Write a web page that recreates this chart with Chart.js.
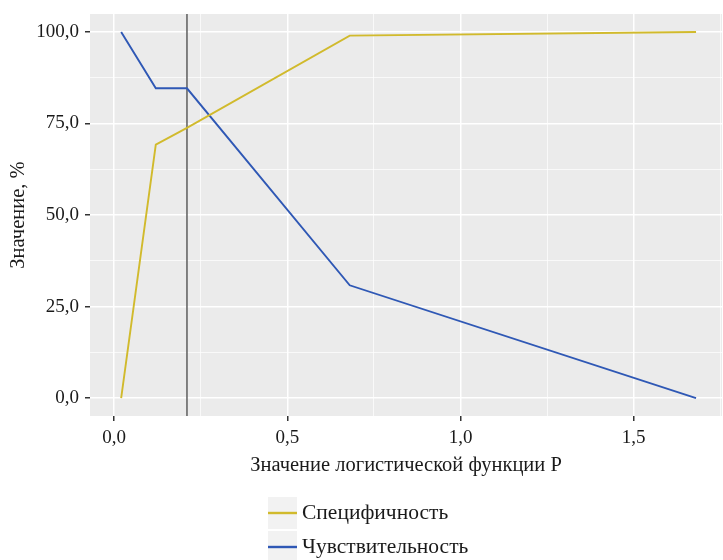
<!DOCTYPE html>
<html>
<head>
<meta charset="utf-8">
<script src="https://cdn.jsdelivr.net/npm/chart.js@4/dist/chart.umd.min.js"></script>
<style>
  html, body { margin: 0; padding: 0; background: #fff; }
  #wrap { width: 723px; height: 560px; position: relative; }
</style>
</head>
<body>
<div id="wrap"><canvas id="rocChart"></canvas></div>
<script>
const thresholds = [0.02, 0.12, 0.21, 0.68, 1.68];
const specificity = [0, 69.2, 73.8, 99.0, 100];
const sensitivity = [100, 84.6, 84.6, 30.8, 0];
const cutoff = 0.21;
const seriesNames = ["Специфичность", "Чувствительность"];
const xTicks = [0, 0.25, 0.5, 0.75, 1, 1.25, 1.5, 1.75];
const yTicks = [0, 12.5, 25, 37.5, 50, 62.5, 75, 87.5, 100];

const FONT = "'Liberation Serif', 'DejaVu Serif', serif";
const fmt = v => v.toFixed(1).replace(".", ",");
const isMajorX = v => Math.abs(v * 2 - Math.round(v * 2)) < 1e-6;
const isMajorY = v => Math.abs(v / 25 - Math.round(v / 25)) < 1e-6;

// grey panel + cutoff line
const panelPlugin = {
  id: "panel",
  beforeDraw(chart) {
    const { ctx, chartArea: a } = chart;
    ctx.save();
    ctx.fillStyle = "#EBEBEB";
    ctx.fillRect(a.left, a.top, a.right - a.left, a.bottom - a.top);
    ctx.restore();
  },
  beforeDatasetsDraw(chart) {
    const { ctx, chartArea: a, scales } = chart;
    const x = scales.x.getPixelForValue(cutoff);
    ctx.save();
    ctx.strokeStyle = "#666666";
    ctx.lineWidth = 1.6;
    ctx.beginPath();
    ctx.moveTo(x, a.top);
    ctx.lineTo(x, a.bottom);
    ctx.stroke();
    ctx.restore();
  }
};

// ggplot-like legend under the plot
const legendPlugin = {
  id: "ggLegend",
  afterDraw(chart) {
    const { ctx } = chart;
    const left = 268, keyW = 29, keyH = 34, top0 = 497;
    ctx.save();
    chart.data.datasets.forEach((ds, i) => {
      const top = top0 + i * keyH;
      ctx.fillStyle = "#F2F2F2";
      ctx.fillRect(left, top, keyW, keyH - 2);
      ctx.strokeStyle = ds.borderColor;
      ctx.lineWidth = 2.4;
      ctx.beginPath();
      ctx.moveTo(left, top + keyH / 2 - 1);
      ctx.lineTo(left + keyW, top + keyH / 2 - 1);
      ctx.stroke();
      ctx.fillStyle = "#1a1a1a";
      ctx.font = "21.5px " + FONT;
      ctx.textBaseline = "middle";
      ctx.fillText(ds.label, left + keyW + 5, top + keyH / 2 - 1);
    });
    ctx.restore();
  }
};

new Chart(document.getElementById("rocChart"), {
  type: "line",
  data: {
    datasets: [
      {
        label: seriesNames[0],
        data: thresholds.map((t, i) => ({ x: t, y: specificity[i] })),
        borderColor: "#D1BA2C",
        borderWidth: 1.9,
        pointRadius: 0,
        tension: 0
      },
      {
        label: seriesNames[1],
        data: thresholds.map((t, i) => ({ x: t, y: sensitivity[i] })),
        borderColor: "#2F58B5",
        borderWidth: 1.9,
        pointRadius: 0,
        tension: 0
      }
    ]
  },
  options: {
    responsive: true,
    maintainAspectRatio: false,
    animation: false,
    layout: { padding: { left: 0, top: 14, right: 1, bottom: 82 } },
    plugins: {
      legend: { display: false },
      tooltip: { enabled: false }
    },
    scales: {
      x: {
        type: "linear",
        min: -0.07,
        max: 1.755,
        afterBuildTicks: s => { s.ticks = xTicks.map(v => ({ value: v })); },
        afterFit: s => { s.height = 62; s.paddingLeft = 0; s.paddingRight = 0; },
        border: { display: false },
        grid: {
          color: "#FFFFFF",
          lineWidth: c => (isMajorX(c.tick.value) ? 1.5 : 0.7),
          tickColor: c => (isMajorX(c.tick.value) ? "#333333" : "rgba(0,0,0,0)"),
          tickLength: 5,
          drawOnChartArea: true
        },
        ticks: {
          autoSkip: false,
          maxRotation: 0,
          padding: 6,
          color: "#1a1a1a",
          font: { family: FONT, size: 19 },
          callback: v => (isMajorX(v) ? fmt(v) : "")
        },
        title: {
          display: true,
          text: "Значение логистической функции Р",
          color: "#1a1a1a",
          font: { family: FONT, size: 20.5 },
          padding: { top: 0, bottom: 0 }
        }
      },
      y: {
        type: "linear",
        min: -4.9,
        max: 104.9,
        afterBuildTicks: s => { s.ticks = yTicks.map(v => ({ value: v })); },
        afterFit: s => { s.width = 90; s.paddingTop = 0; s.paddingBottom = 0; },
        border: { display: false },
        grid: {
          color: "#FFFFFF",
          lineWidth: c => (isMajorY(c.tick.value) ? 1.5 : 0.7),
          tickColor: c => (isMajorY(c.tick.value) ? "#333333" : "rgba(0,0,0,0)"),
          tickLength: 5
        },
        ticks: {
          autoSkip: false,
          padding: 6,
          color: "#1a1a1a",
          font: { family: FONT, size: 19 },
          callback: v => (isMajorY(v) ? fmt(v) : "")
        },
        title: {
          display: true,
          text: "Значение, %",
          color: "#1a1a1a",
          font: { family: FONT, size: 20.5 },
          padding: { top: 6, bottom: 0 }
        }
      }
    }
  },
  plugins: [panelPlugin, legendPlugin]
});
</script>
</body>
</html>
